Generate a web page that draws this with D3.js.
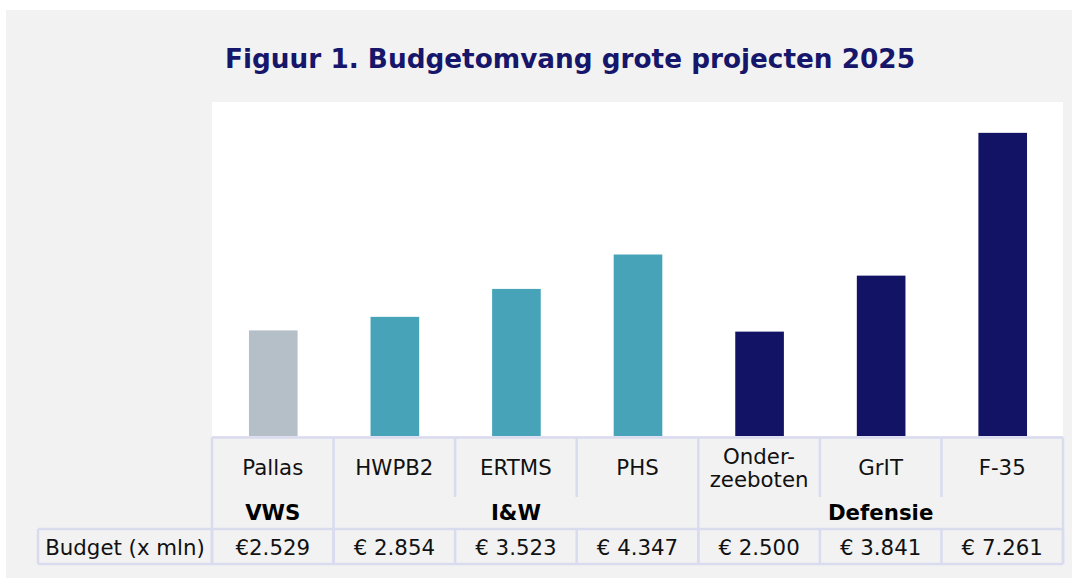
<!DOCTYPE html>
<html>
<head>
<meta charset="utf-8">
<script src="https://cdn.jsdelivr.net/npm/d3@7"></script>
<style>
  body { margin: 0; background: #fff; }
  svg { display: block; font-family: Verdana, "DejaVu Sans", sans-serif; }
</style>
</head>
<body>
<svg></svg>
<script>
// data
var projects = ["Pallas", "HWPB2", "ERTMS", "PHS", "Onder-\nzeeboten", "GrIT", "F-35"];
var ministries = ["VWS", "I&W", "I&W", "I&W", "Defensie", "Defensie", "Defensie"];
var budgets = [2529, 2854, 3523, 4347, 2500, 3841, 7261];
var budgetLabels = ["€2.529", "€ 2.854", "€ 3.523", "€ 4.347", "€ 2.500", "€ 3.841", "€ 7.261"];
var rowTitle = "Budget (x mln)";
var title = "Figuur 1. Budgetomvang grote projecten 2025";

var width = 1072, height = 582;
var svg = d3.select("svg").attr("width", width).attr("height", height);

var plotLeft = 212, plotRight = 1063, plotTop = 102, base = 436;
var lineColor = "#d9dbef";
var fontSize = 21.3;

svg.append("rect").attr("x", 6).attr("y", 10).attr("width", width - 6).attr("height", 568)
    .attr("fill", "#f2f2f2");

svg.append("text").text(title)
    .attr("x", 570).attr("y", 68)
    .attr("text-anchor", "middle")
    .attr("font-size", 26.3).attr("font-weight", "bold")
    .attr("fill", "#16166a");

// plot area
svg.append("rect").attr("x", plotLeft).attr("y", plotTop)
    .attr("width", plotRight - plotLeft).attr("height", base - plotTop).attr("fill", "#fff");

var x = d3.scaleBand().domain(d3.range(projects.length)).range([plotLeft, plotRight]).padding(0);
var y = d3.scaleLinear().domain([0, 8000]).range([base, plotTop]);
var color = d3.scaleOrdinal().domain(["VWS", "I&W", "Defensie"])
    .range(["#b5bfc8", "#47a3b8", "#131366"]);

var barW = x.bandwidth() * 0.4;
svg.selectAll("rect.bar").data(budgets).enter()
    .append("rect")
    .attr("class", "bar")
    .attr("x", function (d, i) { return x(i) + (x.bandwidth() - barW) / 2 + 0.5; })
    .attr("y", function (d) { return y(d); })
    .attr("width", barW)
    .attr("height", function (d) { return base - y(d); })
    .attr("fill", function (d, i) { return color(ministries[i]); });

// table
var tableTop = 437.5, labelBottom = 497, groupBottom = 529, tableBottom = 564, rowLeft = 38;
var g = svg.append("g").attr("stroke", lineColor).attr("stroke-width", 2.5);

g.append("line").attr("x1", plotLeft).attr("x2", plotRight).attr("y1", tableTop).attr("y2", tableTop);
g.append("line").attr("x1", rowLeft).attr("x2", plotRight).attr("y1", groupBottom).attr("y2", groupBottom);
g.append("line").attr("x1", rowLeft).attr("x2", plotRight).attr("y1", tableBottom).attr("y2", tableBottom);
g.append("line").attr("x1", rowLeft).attr("x2", rowLeft).attr("y1", groupBottom).attr("y2", tableBottom);

var edges = d3.range(projects.length + 1).map(function (i) {
    return i < projects.length ? x(i) : plotRight;
});
g.selectAll("line.col").data(edges).enter()
    .append("line")
    .attr("class", "col")
    .attr("x1", function (d) { return d; })
    .attr("x2", function (d) { return d; })
    .attr("y1", tableTop)
    .attr("y2", function (d, i) {
        var full = i == 0 || i == projects.length || ministries[i] != ministries[i - 1];
        return full ? tableBottom : labelBottom;
    });
// budget row dividers inside groups
g.selectAll("line.bcol").data(edges).enter()
    .append("line")
    .attr("class", "bcol")
    .attr("x1", function (d) { return d; })
    .attr("x2", function (d) { return d; })
    .attr("y1", groupBottom).attr("y2", tableBottom);

var lineH = 23;
projects.forEach(function (p, i) {
    var lines = p.split("\n");
    lines.forEach(function (s, j) {
        svg.append("text").text(s)
            .attr("x", x(i) + x.bandwidth() / 2)
            .attr("y", 475 + (j - (lines.length - 1) / 2) * lineH)
            .attr("text-anchor", "middle")
            .attr("font-size", fontSize).attr("fill", "#111");
    });
});

// ministry groups
var groups = [];
ministries.forEach(function (m, i) {
    if (i == 0 || m != ministries[i - 1]) groups.push({ name: m, start: i, end: i });
    else groups[groups.length - 1].end = i;
});
svg.selectAll("text.grp").data(groups).enter()
    .append("text")
    .attr("class", "grp")
    .text(function (d) { return d.name; })
    .attr("x", function (d) { return (x(d.start) + x(d.end) + x.bandwidth()) / 2; })
    .attr("y", 520)
    .attr("text-anchor", "middle")
    .attr("font-size", fontSize).attr("font-weight", "bold").attr("fill", "#000");

svg.selectAll("text.val").data(budgetLabels).enter()
    .append("text")
    .attr("class", "val")
    .text(function (d) { return d; })
    .attr("x", function (d, i) { return x(i) + x.bandwidth() / 2; })
    .attr("y", 555)
    .attr("text-anchor", "middle")
    .attr("font-size", fontSize).attr("fill", "#111");

svg.append("text").text(rowTitle)
    .attr("x", (rowLeft + plotLeft) / 2).attr("y", 555)
    .attr("text-anchor", "middle")
    .attr("font-size", fontSize).attr("fill", "#111");
</script>
</body>
</html>
